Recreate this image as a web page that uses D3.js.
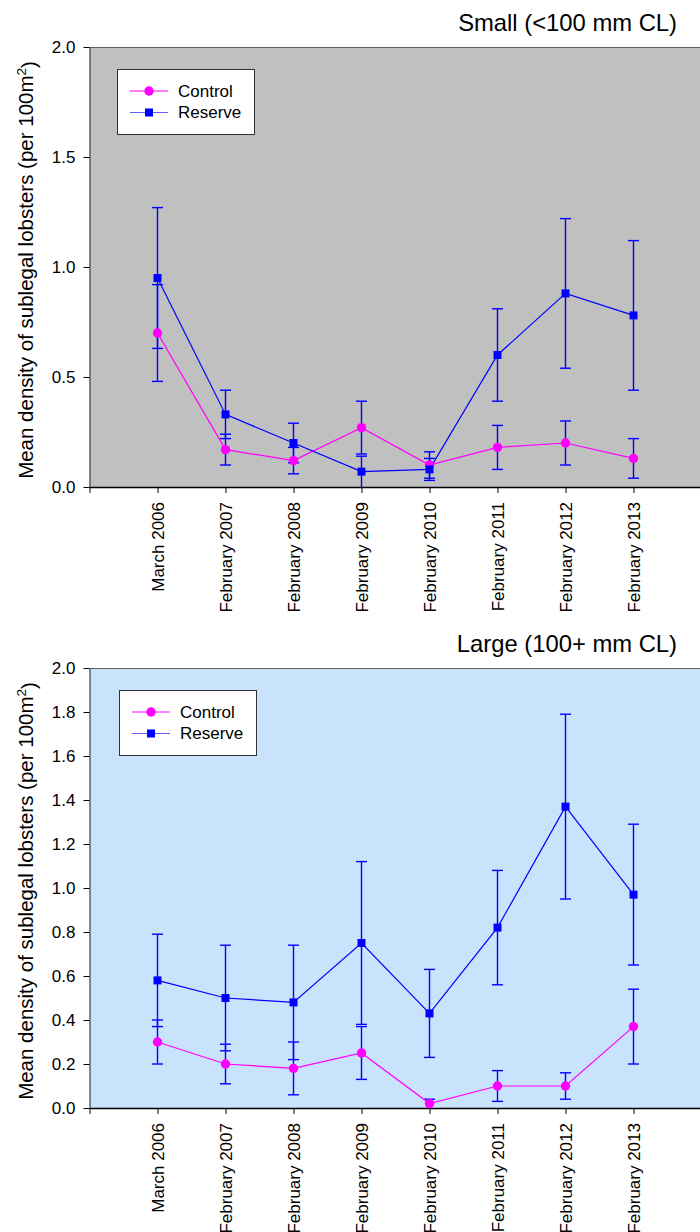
<!DOCTYPE html>
<html>
<head>
<meta charset="utf-8">
<script src="https://cdn.jsdelivr.net/npm/d3@7"></script>
<style>
  body { margin: 0; background: #fff; }
  svg text { font-family: "Liberation Sans", Arial, sans-serif; fill: #000; }
</style>
</head>
<body>
<svg id="chart"></svg>
<script>
// survey dates along the x axis
const categories = ["March 2006", "February 2007", "February 2008", "February 2009",
                    "February 2010", "February 2011", "February 2012", "February 2013"];

// small (<100 mm CL) lobsters: mean and +/- error
const smallControl    = [0.70, 0.17, 0.12, 0.27, 0.10, 0.18, 0.20, 0.13];
const smallControlErr = [0.22, 0.07, 0.06, 0.12, 0.06, 0.10, 0.10, 0.09];
const smallReserve    = [0.95, 0.33, 0.20, 0.07, 0.08, 0.60, 0.88, 0.78];
const smallReserveErr = [0.32, 0.11, 0.09, 0.07, 0.05, 0.21, 0.34, 0.34];

// large (100+ mm CL) lobsters
const largeControl    = [0.30, 0.20, 0.18, 0.25, 0.02, 0.10, 0.10, 0.37];
const largeControlErr = [0.10, 0.09, 0.12, 0.12, 0.02, 0.07, 0.06, 0.17];
const largeReserve    = [0.58, 0.50, 0.48, 0.75, 0.43, 0.82, 1.37, 0.97];
const largeReserveErr = [0.21, 0.24, 0.26, 0.37, 0.20, 0.26, 0.42, 0.32];

// y tick labels
const smallTicks = [0, 0.5, 1.0, 1.5, 2.0];
const largeTicks = [0, 0.2, 0.4, 0.6, 0.8, 1.0, 1.2, 1.4, 1.6, 1.8, 2.0];

const seriesNames = ["Control", "Reserve"];

const width = 700;
const height = 1232;
const plotH = 440;
const magenta = "#ff00ff";
const blue = "#0000ff";

let svg = d3.select("#chart")
            .attr("width", width)
            .attr("height", height);

const panels = [
  { title: "Small (<100 mm CL)", top: 47, bg: "#c0c0c0", ticks: smallTicks,
    control: smallControl, controlErr: smallControlErr,
    reserve: smallReserve, reserveErr: smallReserveErr,
    legendX: 117, legendY: 69 },
  { title: "Large (100+ mm CL)", top: 668, bg: "#cae3fd", ticks: largeTicks,
    control: largeControl, controlErr: largeControlErr,
    reserve: largeReserve, reserveErr: largeReserveErr,
    legendX: 119, legendY: 690 }
];

// x positions: category i sits at i+1, axis starts at 0
let x = d3.scaleLinear()
          .domain([0, 9])
          .range([89.5, 701.5]);

panels.forEach(drawPanel);

function drawPanel(p) {
  let y = d3.scaleLinear()
            .domain([0, 2])
            .range([p.top + plotH, p.top]);

  let g = svg.append("g");

  //plot background
  g.append("rect")
     .attr("x", x(0))
     .attr("y", p.top)
     .attr("width", width - x(0))
     .attr("height", plotH)
     .attr("fill", p.bg);

  g.append("line")
     .attr("x1", x(0)).attr("x2", width)
     .attr("y1", p.top + 0.5).attr("y2", p.top + 0.5)
     .attr("stroke", "#606060")
     .attr("stroke-width", 1.2);

  //title
  g.append("text")
     .attr("x", 677)
     .attr("y", p.top - 16)
     .attr("text-anchor", "end")
     .style("font-size", "23.8px")
     .text(p.title);

  //y axis
  let yAxis = d3.axisLeft(y)
                .tickValues(p.ticks)
                .tickFormat(d3.format(".1f"))
                .tickSize(6)
                .tickPadding(8)
                .tickSizeOuter(0);

  let yg = g.append("g")
              .attr("transform", `translate(${x(0)},0)`)
            .call(yAxis);
  yg.select(".domain").attr("stroke", "#505050").attr("stroke-width", 1.3);
  yg.selectAll("text").style("font-size", "17px").attr("font-family", null);

  //x axis
  let xAxis = d3.axisBottom(x)
                .tickValues(d3.range(0, 9))
                .tickFormat(i => i === 0 ? "" : categories[i - 1])
                .tickSize(6)
                .tickSizeOuter(0);

  let xg = g.append("g")
              .attr("transform", `translate(0,${p.top + plotH})`)
            .call(xAxis);
  xg.select(".domain").attr("stroke", "#000").attr("stroke-width", 1.3);
  xg.selectAll("text")
      .attr("transform", "rotate(-90)")
      .attr("text-anchor", "end")
      .attr("x", -15)
      .attr("y", 0)
      .attr("dy", "0.35em")
      .attr("font-family", null)
      .style("font-size", "17px");

  //y label with superscript
  let ylab = g.append("text")
                .attr("transform", `translate(32.5,${p.top + 223}) rotate(-90)`)
                .attr("text-anchor", "middle")
                .style("font-size", "20.5px");
  ylab.append("tspan").text("Mean density of sublegal lobsters (per 100m");
  ylab.append("tspan").attr("dy", "-0.5em").style("font-size", "13.5px").text("2");
  ylab.append("tspan").attr("dy", "0.5em").text(")");

  const series = [
    { values: p.control, err: p.controlErr, color: magenta, shape: "circle" },
    { values: p.reserve, err: p.reserveErr, color: blue, shape: "square" }
  ];

  //error bars (all drawn in blue)
  series.forEach(s => {
    let eb = g.append("g").attr("class", "errorbars")
                .selectAll("g")
                .data(s.values.map((v, i) => ({ i: i, v: v, e: s.err[i] })))
                .enter()
                .append("g")
                  .attr("stroke", blue)
                  .attr("stroke-width", 1.4);
    eb.append("line")
        .attr("x1", d => x(d.i + 1)).attr("x2", d => x(d.i + 1))
        .attr("y1", d => y(Math.max(0, d.v - d.e)))
        .attr("y2", d => y(d.v + d.e));
    eb.append("line")
        .attr("x1", d => x(d.i + 1) - 5.5).attr("x2", d => x(d.i + 1) + 5.5)
        .attr("y1", d => y(d.v + d.e)).attr("y2", d => y(d.v + d.e));
    eb.filter(d => d.v - d.e > 0.001)
      .append("line")
        .attr("x1", d => x(d.i + 1) - 5.5).attr("x2", d => x(d.i + 1) + 5.5)
        .attr("y1", d => y(d.v - d.e)).attr("y2", d => y(d.v - d.e));
  });

  //lines
  let line = d3.line()
               .x((d, i) => x(i + 1))
               .y(d => y(d));

  series.forEach(s => {
    g.append("path")
       .datum(s.values)
       .attr("d", line)
       .attr("fill", "none")
       .attr("stroke", s.color)
       .attr("stroke-width", 1.2);
  });

  //markers
  series.forEach(s => {
    let m = g.append("g").selectAll("path")
               .data(s.values)
               .enter();
    if (s.shape === "circle") {
      m.append("circle")
         .attr("cx", (d, i) => x(i + 1))
         .attr("cy", d => y(d))
         .attr("r", 4.7)
         .attr("fill", s.color);
    } else {
      m.append("rect")
         .attr("x", (d, i) => x(i + 1) - 4)
         .attr("y", d => y(d) - 4)
         .attr("width", 8)
         .attr("height", 8)
         .attr("fill", s.color);
    }
  });

  //legend
  let legend = g.append("g")
                  .attr("transform", `translate(${p.legendX},${p.legendY})`);
  legend.append("rect")
          .attr("x", 0.5).attr("y", 0.5)
          .attr("width", 137).attr("height", 65)
          .attr("fill", "#fff")
          .attr("stroke", "#333")
          .attr("stroke-width", 1);

  seriesNames.forEach((name, k) => {
    let s = series[k];
    let ly = 22 + k * 21.5;
    legend.append("line")
            .attr("x1", 13).attr("x2", 51)
            .attr("y1", ly).attr("y2", ly)
            .attr("stroke", k === 0 ? s.color : "#6060ff")
            .attr("stroke-width", 1.2);
    if (s.shape === "circle") {
      legend.append("circle")
              .attr("cx", 32).attr("cy", ly).attr("r", 4.7)
              .attr("fill", s.color);
    } else {
      legend.append("rect")
              .attr("x", 28).attr("y", ly - 4)
              .attr("width", 8).attr("height", 8)
              .attr("fill", s.color);
    }
    legend.append("text")
            .attr("x", 61)
            .attr("y", ly)
            .attr("dy", "0.35em")
            .style("font-size", "17px")
            .text(name);
  });
}
</script>
</body>
</html>
